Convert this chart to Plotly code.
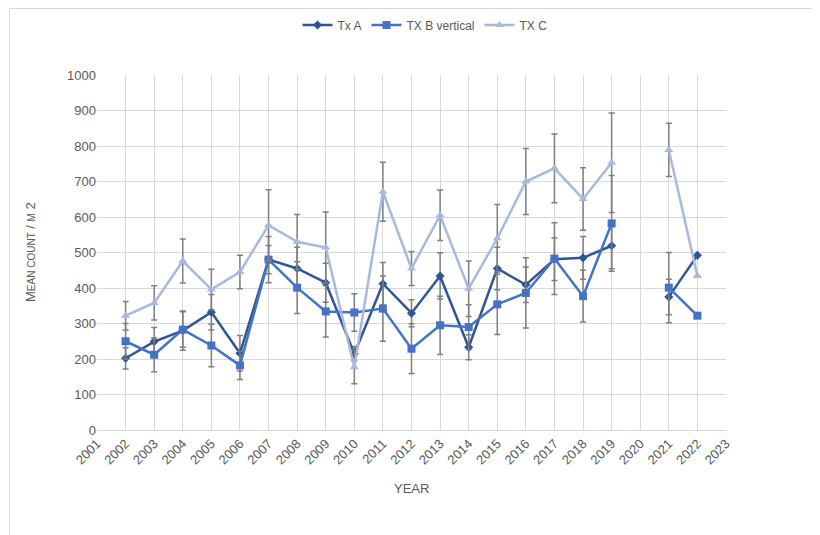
import plotly.graph_objects as go

years = [2002, 2003, 2004, 2005, 2006, 2007, 2008, 2009, 2010, 2011, 2012,
         2013, 2014, 2015, 2016, 2017, 2018, 2019, 2020, 2021, 2022]

tx_a = [202, 249, 280, 332, 216, 480, 455, 415, 215, 412, 329,
        434, 233, 455, 409, 481, 485, 519, None, 375, 492]
tx_b = [250, 212, 283, 238, 182, 480, 401, 334, 331, 342, 229,
        295, 290, 354, 386, 483, 377, 582, None, 401, 322]
tx_c = [322, 358, 476, 396, 445, 577, 530, 514, 177, 671, 455,
        605, 398, 540, 700, 737, 651, 753, None, 789, 434]

err_a = [30, 40, 55, 50, 50, 40, 60, 55, 20, 60, 38,
         65, 35, 60, 50, 60, 60, 65, None, 50, None]
err_b = [50, 48, 50, 60, 40, 65, 73, 72, 53, 92, 70,
         82, 63, 85, 99, 101, 73, 135, None, 99, None]
err_c = [40, 48, 62, 57, 47, 100, 77, 100, 47, 83, 48,
         71, 78, 95, 93, 97, 88, 140, None, 75, None]

x_ticks = list(range(2001, 2024))

# page body has an 8px offset; figure coordinates = screen - 8
OFF = 8
W, H = 820, 535
L, R, T, B = 97 - OFF, W - (726 - OFF), 75 - OFF, H - (430 - OFF)
PW, PH = W - L - R, H - T - B

fig = go.Figure()

def add(name, y, err, color, symbol, size):
    fig.add_trace(go.Scatter(
        x=years, y=y, name=name, mode="lines+markers",
        connectgaps=False,
        line=dict(color=color, width=2.5),
        marker=dict(symbol=symbol, size=size, color=color),
        error_y=dict(type="data", array=err, visible=True,
                     color="#7f7f7f", thickness=1.5, width=3),
    ))

add("Tx A", tx_a, err_a, "#2f5597", "diamond", 7)
add("TX B vertical", tx_b, err_b, "#4472c4", "square", 8)
add("TX C", tx_c, err_c, "#a9b8de", "triangle-up", 8)

grid = "#d9d9d9"
txt = "#595959"

def px_x(sx):
    return (sx - OFF - L) / PW

def px_y(sy):
    return (H - B - (sy - OFF)) / PH

fig.update_layout(
    width=W, height=H,
    margin=dict(l=L, r=R, t=T, b=B, autoexpand=False),
    paper_bgcolor="white", plot_bgcolor="white",
    font=dict(family="Liberation Sans, Arial, sans-serif", color=txt, size=12),
    legend=dict(orientation="h", x=(425 - OFF) / W, xanchor="center",
                xref="container", yref="container",
                y=1 - (25 - OFF) / H, yanchor="middle",
                font=dict(size=12, color=txt),
                bgcolor="rgba(0,0,0,0)"),
    xaxis=dict(range=[2001, 2023], tickmode="array", tickvals=x_ticks,
               ticktext=[str(v) for v in x_ticks], tickangle=-45,
               automargin=False,
               showgrid=True, gridcolor=grid, gridwidth=1,
               showline=True, linecolor=grid, zeroline=False,
               tickfont=dict(size=13, color=txt), ticks=""),
    yaxis=dict(range=[0, 1000], dtick=100, showgrid=True, gridcolor=grid,
               automargin=False,
               gridwidth=1, zeroline=False, showline=False,
               tickfont=dict(size=13, color=txt), ticks=""),
    annotations=[
        dict(text="YEAR", xref="paper", yref="paper",
             x=px_x(411), y=px_y(488),
             showarrow=False, font=dict(size=13, color=txt),
             xanchor="center", yanchor="middle"),
        dict(text="M<span style='font-size:10px'>EAN COUNT</span> / <span style='font-size:10px'>M</span> 2",
             xref="paper", yref="paper",
             x=px_x(30), y=px_y(252), textangle=-90,
             showarrow=False, font=dict(size=13, color=txt),
             xanchor="center", yanchor="middle"),
    ],
    shapes=[dict(type="rect", xref="paper", yref="paper",
                 x0=px_x(9.5), x1=px_x(860),
                 y0=px_y(600), y1=px_y(8.5),
                 line=dict(color="#d9d9d9", width=1), layer="below")],
)

fig.write_html("out.html")
